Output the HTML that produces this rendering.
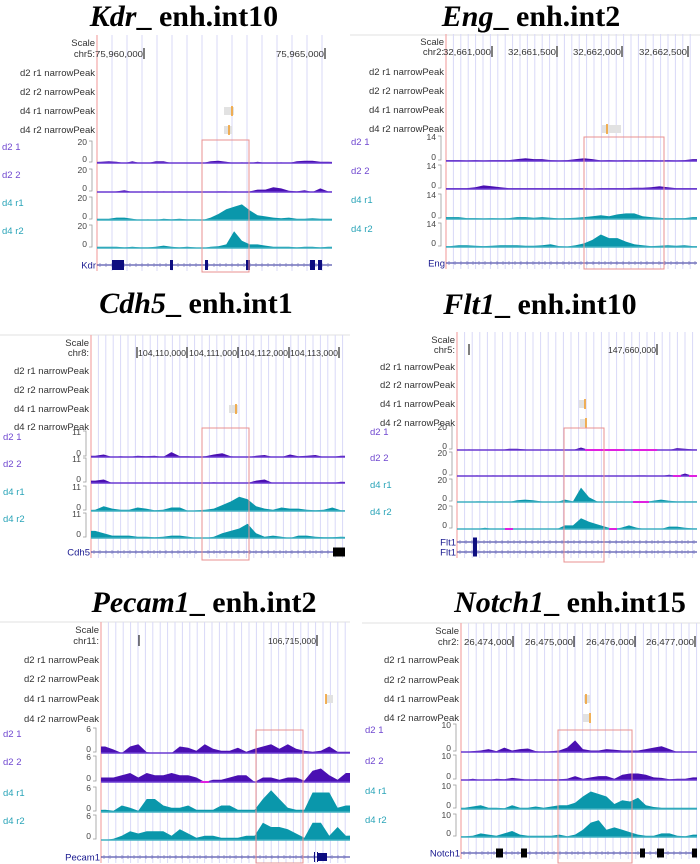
<!DOCTYPE html>
<html><head><meta charset="utf-8">
<style>
html,body{margin:0;padding:0;background:#fff;}
svg{display:block;}
.ttl{font-family:"Liberation Serif",serif;font-weight:bold;font-size:30px;fill:#000;}
.lab{font-family:"Liberation Sans",sans-serif;font-size:9.5px;fill:#333;}
.crd{font-family:"Liberation Sans",sans-serif;font-size:8.6px;fill:#333;}
.ax{font-family:"Liberation Sans",sans-serif;font-size:8.5px;fill:#444;}
</style></head>
<body>
<svg id="fig" width="700" height="864" viewBox="0 0 700 864"></svg>
<script>
// ---------- data (signal values per bin, in track units) ----------
const trackNames = ["d2 1","d2 2","d4 r1","d4 r2"];
const peakNames = ["d2 r1 narrowPeak","d2 r2 narrowPeak","d4 r1 narrowPeak","d4 r2 narrowPeak"];
const axisMax = {kdr:20, eng:14, cdh5:11, flt1:20, pecam1:6, notch1:10};

const kdr_d2_1 = [1,1.5,1,0,1.5,0,0,1.5,1.5,0,0,0,0,0,1.5,2,1,0,0.5,0,1,0,0,0.5,0,1.5,2,2,1,1];
const kdr_d2_2 = [0,0,0.5,1.5,0,0,0.5,0,0.5,0,0.5,0,0,0,0,0.5,0.5,0,0,0.5,2,2,4,3,1,0.5,1.5,0,3,0.5];
const kdr_d4_1 = [1,1,2,2,1,0,0.5,0,1,0.5,1,0.5,0.5,0,2,5,9,11,13,8,4,3,2,1.5,2,1,1,1.5,1,1];
const kdr_d4_2 = [1,1,1,0.5,1,0.5,0.5,1,2,1,0.5,1,0.5,0,1,1.5,3,14,6,3,3,2,1,1,1,0.5,1,1,0.5,1];

const eng_d2_1 = [0.5,0.5,0.3,0.5,0.3,0.5,0.5,0.5,1,1.5,1,1,0.5,0.3,0.5,1,1.5,1,0.3,0.5,0.3,0.5,0.3,0.5,0.5,0.3,0.5,0.3,0.5,1];
const eng_d2_2 = [0.5,0.5,0.5,1,2,1.5,1,0.5,0.5,0.5,0.5,0.5,0.5,0.5,0.5,0.5,0.5,0.3,0.5,0.5,0.5,0.5,0.7,0.7,1,1.5,1,0.5,0.5,0.5];
const eng_d4_1 = [1,1,0.5,0.5,0.3,0.5,0.3,0.5,1,1,0.7,1,0.7,0.3,0.5,0.7,1,1.5,2,1.5,2.5,3,3,1.5,1,0.7,0.3,0.5,0.5,1];
const eng_d4_2 = [0.5,1,1,0.7,0.5,0.7,1,1,1,0.7,0.7,1,1.5,0.5,0.3,1,2,4,7,5,5,3,1.5,1,0.5,0.7,1,0.7,1,0.5];

const cdh5_d2_1 = [0.5,1,0,0.3,0,0.5,0.3,0.5,0,2,0.3,0.3,0,0.3,1,1.5,0.3,0,0,0.5,0.8,0,0,1,0.3,0.5,0.8,0,0,0.5];
const cdh5_d2_2 = [1,1.5,0,0,0,0,0,0,0,0,0,0,0,0,0.3,0,0,0,0,1,1.5,0,0,0,0,0,0,0,0,0.5];
const cdh5_d4_1 = [0.5,2,1,0.5,0.5,1.5,1,0.3,0.5,1.5,1.5,0,0.3,0.5,1,2.5,4,6,5,2,1,0.5,1.5,1,1,0.5,0.3,0.5,1.5,0.3];
const cdh5_d4_2 = [3,2,1,1,1,0.5,0.5,0.3,0.5,1,1,0.5,0,0,0.5,2,3,4,6,2,0.5,1,0.5,0,1,1,0.5,0.3,0.3,0.5];

const flt1_d2_1 = [0,0.5,0,0,0,0,1,1,0.5,0,0,0,0,0,0,2,-1,-1,-1,-1,-1,0,-1,-1,-1,0,0,1.5,1,0.5];
const flt1_d2_2 = [0,0,0.5,0,0.5,0,0.5,0,0,0,0,0,0,0,0,0.3,0,0,0,0,0,0,0.5,0.5,0,0,1,-0.5,2,-0.5];
const flt1_d4_1 = [0,0,0.5,0.5,0,0.5,0,1.5,2,1.5,0.5,0,0,2,0.5,12,4,0.5,0,0,0.5,0,-0.5,-0.5,1,2,1,0.5,0.5,0.5];
const flt1_d4_2 = [0,0,0,1,0,0,-0.5,0,0,0,0,0,0,3,3,9,6,4,2,-0.5,1,3,1,0,0,0,2,2,1,0.5];

const pecam1_d2_1 = [1.5,0.8,0,1.5,2,0.2,0,0,0,1.5,1.2,0.5,2,1,0.5,0.5,1.2,0.3,1,1.5,2,1,2,1,0.5,0.3,0.5,1.5,0.3,0.3];
const pecam1_d2_2 = [1,1,1.5,2,1,2,1.5,1.5,2,1.5,1.5,1,-0.3,0.5,0.5,1,1.5,1.5,0,1,1,0.5,1,1,0.3,2.5,3,1.5,0.5,2];
const pecam1_d4_1 = [0.5,0.3,1.5,1,0.3,3,3,1.5,1,1,1.5,0.5,0.5,0.5,1.5,1.5,0.5,0.5,0.5,3,5,3,1,0.5,0.5,4.5,4.5,4.5,1,1.5];
const pecam1_d4_2 = [0,0.3,1,2,1.5,2,2,2,1,2.5,1.5,0.5,1,1,0.5,0.5,0.5,1,1,4,3,3,2.5,1.5,0.5,4,4,1,3,1];

const notch1_d2_1 = [0,0.3,0.5,1,0.3,1.5,0.5,1,1.2,0.3,0,0.3,0.5,1.5,4,1,0.5,0.5,1,0.8,0.5,0.5,0.5,1,1.5,2,1,0,0,0];
const notch1_d2_2 = [0,0.5,0,0,0.5,0.3,0.8,0.5,0,0.3,0,0,0.3,0.5,1.5,0.5,1,1.5,1.5,0.5,2,2.5,2.5,2,1,0.8,0.3,0.5,0.5,1];
const notch1_d4_1 = [0.5,1,1.5,0.5,0.5,0.3,1.5,0.5,0.5,1,0.5,1,1.5,1.5,2.5,5,7,6,5,2,3.5,3,4.5,1.5,0.8,0.5,0.5,0.5,0.5,0.5];
const notch1_d4_2 = [0.3,0.5,1.5,1,0.5,1.5,2.5,1,0.5,0.5,0.5,0.5,1,0.3,1,3,6,7,3,4,3,2,1,0.5,0.5,1.5,1.5,0.5,0.3,1];

const tickLabels = {
  kdr:["75,960,000","75,965,000"], eng:["32,661,000","32,661,500","32,662,000","32,662,500"],
  cdh5:["","104,110,000","104,111,000","104,112,000","104,113,000"], flt1:["","147,660,000"],
  pecam1:["","106,715,000"], notch1:["26,474,000","26,475,000","26,476,000","26,477,000"]
};

// ---------- layout ----------
const panels = [
 {id:"kdr", gene:"Kdr", chr:"chr5:", title:["Kdr","_ enh.int10"], tx:184, ty:26, hline:null,
  left:97, right:332, grid:15, labelX:2, sY:[43,54], peakY:[73,92,111,130],
  tops:[140,168,196,224], bases:[163,192,220,248], geneY:[265], box:[202,140,249,272],
  tickX:[144,325], series:[kdr_d2_1,kdr_d2_2,kdr_d4_1,kdr_d4_2],
  peaks:[[2,224,234,232],[3,224,232,229]],
  exons:[[112,124,10],[170,173,10],[205,208,10],[246,250,10],[310,315,10],[318,322,10]], exColor:"#0d0d80"},
 {id:"eng", gene:"Eng", chr:"chr2:", title:["Eng","_ enh.int2"], tx:531, ty:26, hline:[350,700,35],
  left:446, right:697, grid:7.4, labelX:351, sY:[42,52], peakY:[72,91,110,129],
  tops:[135,164,193,222], bases:[161,189,219,247], geneY:[263], box:[584,137,664,269],
  tickX:[492,557,622,688], series:[eng_d2_1,eng_d2_2,eng_d4_1,eng_d4_2],
  peaks:[[3,602,621,607]], exons:[], exColor:"#0d0d80"},
 {id:"cdh5", gene:"Cdh5", chr:"chr8:", title:["Cdh5","_ enh.int1"], tx:196, ty:313, hline:[0,350,335],
  left:91, right:345, grid:7.4, labelX:3, sY:[343,353], peakY:[371,390,409,427],
  tops:[430,457,485,512], bases:[457,483,511,538], geneY:[552], box:[202,428,249,560],
  tickX:[137,187,238,289,339], series:[cdh5_d2_1,cdh5_d2_2,cdh5_d4_1,cdh5_d4_2],
  peaks:[[2,229,238,236]], exons:[[333,345,9]], exColor:"#000"},
 {id:"flt1", gene:"Flt1", chr:"chr5:", title:["Flt1","_ enh.int10"], tx:540, ty:314, hline:null,
  left:457, right:697, grid:7.6, labelX:370, sY:[340,350], peakY:[367,385,404,423],
  tops:[425,451,478,505], bases:[450,476,502,529], geneY:[542,552], box:[564,428,604,562],
  tickX:[469,657], series:[flt1_d2_1,flt1_d2_2,flt1_d4_1,flt1_d4_2],
  peaks:[[2,579,585,585],[3,580,586,586]], exons:[[473,477,19]], exColor:"#0d0d80"},
 {id:"pecam1", gene:"Pecam1", chr:"chr11:", title:["Pecam1","_ enh.int2"], tx:204, ty:612, hline:[0,350,622],
  left:101, right:350, grid:7.4, labelX:3, sY:[630,641], peakY:[660,679,699,719],
  tops:[727,755,786,814], bases:[753,782,812,840], geneY:[857], box:[256,730,303,863],
  tickX:[139,317], series:[pecam1_d2_1,pecam1_d2_2,pecam1_d4_1,pecam1_d4_2],
  peaks:[[2,326,333,326]], exons:[[314,315,10],[317,318,10],[318,327,8]], exColor:"#0d0d80"},
 {id:"notch1", gene:"Notch1", chr:"chr2:", title:["Notch1","_ enh.int15"], tx:570, ty:612, hline:[362,700,623],
  left:461, right:697, grid:7.6, labelX:365, sY:[631,642], peakY:[660,680,699,718],
  tops:[723,754,784,813], bases:[752,780,809,837], geneY:[853], box:[558,730,632,863],
  tickX:[513,574,635,695], series:[notch1_d2_1,notch1_d2_2,notch1_d4_1,notch1_d4_2],
  peaks:[[2,584,590,586],[3,583,589,590]], exons:[[496,503,9],[521,527,9],[640,645,9],[657,664,9],[692,697,9]], exColor:"#000"}
];

const NS = "http://www.w3.org/2000/svg";
const fig = document.getElementById("fig");
function mk(tag, attrs, parent){
  const e = document.createElementNS(NS, tag);
  for (const k in attrs) e.setAttribute(k, attrs[k]);
  (parent||fig).appendChild(e);
  return e;
}
const fillCol = ["#4a10b2","#4a10b2","#0a97ab","#0a97ab"];
const lineCol = ["#6a3ad2","#6a3ad2","#40b0c2","#40b0c2"];
const labCol = ["#7048d0","#7048d0","#2aa4b8","#2aa4b8"];

panels.forEach(p => {
  const g = mk("g", {});
  
  
  const bottom = p.geneY[p.geneY.length-1] + 6;
  const topLine = p.sY[0] - 8;

  const t = mk("text", {x:p.tx, y:p.ty, "text-anchor":"middle", class:"ttl"}, g);
  
  
  const ts1 = mk("tspan", {"font-style":"italic"}, t); ts1.textContent = p.title[0];
  const ts2 = mk("tspan", {}, t); ts2.textContent = p.title[1];

  if (p.hline) {
    const hl = mk("line", {x1:p.hline[0], x2:p.hline[1], y1:p.hline[2], y2:p.hline[2], stroke:"#e2e2e2", "stroke-width":1}, g);
    
    
  }
  const gg = mk("g", {}, g);
  
  
  for (let x = p.left + p.grid; x < p.right; x += p.grid) {
    mk("line", {x1:x, x2:x, y1:topLine, y2:bottom, stroke:"#d9d9f7", "stroke-width":1}, gg);
  }
  const lb = mk("line", {x1:p.left, x2:p.left, y1:topLine, y2:bottom, stroke:"#f2a8a8", "stroke-width":1.2}, g);
  
  

  const sc = mk("text", {x:p.left-2, y:p.sY[0]+3, "text-anchor":"end", class:"lab"}, g);
  
  
  sc.textContent = "Scale";
  const ch = mk("text", {x:p.left-2, y:p.sY[1]+3, "text-anchor":"end", class:"lab"}, g);
  
  
  ch.textContent = p.chr;
  tickLabels[p.id].forEach((lbl, i) => {
    const x = p.tickX[i];
    const tk = mk("line", {x1:x, x2:x, y1:p.sY[1]-6, y2:p.sY[1]+5, stroke:"#000", "stroke-width":1}, g);
    
    
    if (lbl) {
      const tl = mk("text", {x:x-1, y:p.sY[1]+3, "text-anchor":"end", class:"crd", textLength:48, lengthAdjust:"spacingAndGlyphs"}, g);
      
      
      tl.textContent = lbl;
    }
  });

  peakNames.forEach((nm, i) => {
    const pl = mk("text", {x:p.left-2, y:p.peakY[i]+3, "text-anchor":"end", class:"lab"}, g);
    
    
    pl.textContent = nm;
  });
  p.peaks.forEach(pk => {
    const y = p.peakY[pk[0]];
    const r = mk("rect", {x:pk[1], y:y-4, width:pk[2]-pk[1], height:8, fill:"#e2e2e2"}, g);
    
    
    const o = mk("rect", {x:pk[3]-0.8, y:y-5, width:1.6, height:10, fill:"#f0a030"}, g);
    
    
  });

  const mx = axisMax[p.id];
  p.series.forEach((vals, i) => {
    const top = p.tops[i], base = p.bases[i];
    const xs = k => p.left + (k + 0.5) * (p.right - p.left) / vals.length;
    const ys = v => base - Math.max(v, 0) / mx * (base - top);
    const tg = mk("g", {}, g);
    
    
    const tl = mk("text", {x:p.labelX, y:top+10, class:"lab", style:"fill:"+labCol[i]}, tg);
    
    
    tl.textContent = trackNames[i];
    mk("path", {d:`M${p.left-8},${top+1} h3 v${base-top-2} h-3`, fill:"none", stroke:"#999", "stroke-width":0.8}, tg);
    const a1 = mk("text", {x:p.left-10, y:top+5, "text-anchor":"end", class:"ax"}, tg);
    
    
    a1.textContent = mx;
    const a0 = mk("text", {x:p.left-10, y:base-1, "text-anchor":"end", class:"ax"}, tg);
    
    
    a0.textContent = "0";
    let d = `M${p.left},${base} L${p.left},${ys(vals[0])}`;
    vals.forEach((v, k) => { d += ` L${xs(k).toFixed(1)},${ys(v).toFixed(1)}`; });
    d += ` L${p.right},${ys(vals[vals.length-1])} L${p.right},${base} Z`;
    const ar = mk("path", {d:d, fill:fillCol[i]}, tg);
    
    
    const bl = mk("line", {x1:p.left, x2:p.right, y1:base, y2:base, stroke:lineCol[i], "stroke-width":1.5}, tg);
    
    
    const bw = (p.right - p.left) / vals.length;
    vals.forEach((v, k) => {
      if (v < 0) {
        const m = mk("line", {x1:p.left + k*bw, x2:p.left + (k+1)*bw, y1:base, y2:base, stroke:"#e020e0", "stroke-width":2}, tg);
        
        
      }
    });
  });

  p.geneY.forEach(gy => {
    const gl = mk("text", {x:p.left-1, y:gy+3.5, "text-anchor":"end", class:"lab", style:"fill:#1a1a90"}, g);
    
    
    gl.textContent = p.gene;
    const ln = mk("line", {x1:p.left, x2:p.right, y1:gy, y2:gy, stroke:"#2a2a9a", "stroke-width":1}, g);
    
    
    let dd = "";
    for (let x = p.left + 3; x < p.right; x += 6) dd += `M${x},${gy-2} v4 `;
    mk("path", {d:dd, stroke:"#7a7ac0", "stroke-width":0.7}, g);
  });
  const gy0 = p.geneY[0], gy1 = p.geneY[p.geneY.length-1];
  p.exons.forEach(ex => {
    const cy = (gy0 + gy1) / 2;
    const r = mk("rect", {x:ex[0], y:cy - ex[2]/2, width:ex[1]-ex[0], height:ex[2], fill:p.exColor}, g);
    
    
  });

  const bx = mk("rect", {x:p.box[0], y:p.box[1], width:p.box[2]-p.box[0], height:p.box[3]-p.box[1], fill:"none", stroke:"#e89090", "stroke-width":1}, g);
  
  
});
</script>
</body></html>
